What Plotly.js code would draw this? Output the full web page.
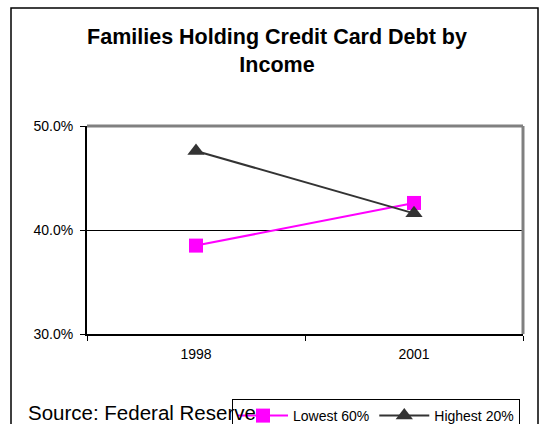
<!DOCTYPE html>
<html><head><meta charset="utf-8">
<script src="https://cdn.plot.ly/plotly-3.0.1.min.js"></script>
<style>html,body{margin:0;padding:0;background:#fff}#c{width:542px;height:424px}</style>
</head><body><div id="c"></div>
<script>
const years = ['1998', '2001'];
const lowest60 = [38.5, 42.6];
const highest20 = [47.6, 41.6];
const seriesNames = ['Lowest 60%', 'Highest 20%'];
const yTicks = [30, 40, 50];
const yTickLabels = ['30.0%', '40.0%', '50.0%'];

const L = 87, R = 19, T = 126, B = 90, W = 542 - L - R, H = 424 - T - B;
const px = x => (x - L) / W;
const py = y => (424 - B - y) / H;

const traces = [
  {x: years, y: lowest60, name: seriesNames[0], type: 'scatter', mode: 'lines+markers',
   line: {color: '#FF00FF', width: 2}, marker: {symbol: 'square', size: 14, color: '#FF00FF'}},
  {x: years, y: highest20, name: seriesNames[1], type: 'scatter', mode: 'lines+markers',
   line: {color: '#333333', width: 2}, marker: {symbol: 'triangle-up', size: 15, color: '#333333'}}
];

const layout = {
  width: 542, height: 424,
  margin: {l: L, r: R, t: T, b: B, autoexpand: false},
  paper_bgcolor: '#fff', plot_bgcolor: '#fff',
  font: {family: 'Liberation Sans, Arial, sans-serif', color: '#000', size: 14},
  title: {text: '<b>Families Holding Credit Card Debt by<br>Income</b>', font: {size: 21.5, color: '#000'},
          x: 277/542, xref: 'container', xanchor: 'center', y: 1 - 44/424, yref: 'container', yanchor: 'middle'},
  xaxis: {type: 'category', range: [-0.5, 1.5], tickson: 'boundaries', ticks: 'outside', ticklen: 5,
          tickcolor: '#000', showline: true, linecolor: '#000', linewidth: 2, showgrid: false,
          zeroline: false, tickfont: {size: 14}, ticklabelstandoff: 6, fixedrange: true},
  yaxis: {range: [30, 50], tickvals: yTicks, ticktext: yTickLabels, ticks: 'outside', ticklen: 5,
          tickcolor: '#000', showline: true, linecolor: '#000', linewidth: 2, showgrid: true,
          gridcolor: '#000', gridwidth: 1, zeroline: false, tickfont: {size: 14}, ticklabelstandoff: 4,
          fixedrange: true},
  showlegend: true,
  legend: {orientation: 'h', x: px(232), xanchor: 'left', y: py(399), yanchor: 'top',
           bordercolor: '#000', borderwidth: 1, bgcolor: '#fff', font: {size: 14},
           itemwidth: 50, tracegroupgap: 0},
  shapes: [
    {type: 'line', xref: 'paper', yref: 'paper', x0: 0, x1: 1, y0: 1, y1: 1, line: {color: '#808080', width: 3}},
    {type: 'line', xref: 'paper', yref: 'paper', x0: 1, x1: 1, y0: 0, y1: 1, line: {color: '#808080', width: 3}},
    {type: 'rect', xref: 'paper', yref: 'paper', x0: px(11), x1: px(538), y0: py(440), y1: py(8),
     line: {color: '#000', width: 1.5}, layer: 'below'}
  ],
  annotations: [
    {text: 'Source: Federal Reserve', xref: 'paper', yref: 'paper', x: px(26), y: py(412),
     xanchor: 'left', yanchor: 'middle', showarrow: false, font: {size: 20.5, color: '#000'}}
  ]
};

Plotly.newPlot('c', traces, layout, {displayModeBar: false, staticPlot: true});
</script></body></html>
